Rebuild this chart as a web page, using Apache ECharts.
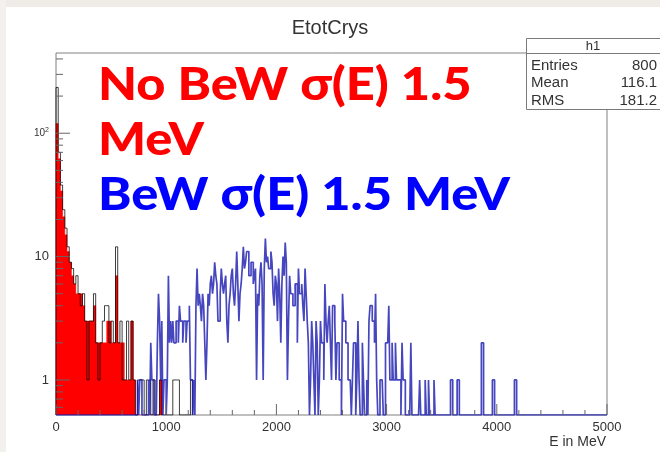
<!DOCTYPE html>
<html>
<head>
<meta charset="utf-8">
<script src="https://cdn.jsdelivr.net/npm/echarts@6/dist/echarts.min.js"></script>
<style>
  html, body { margin: 0; padding: 0; background: #ffffff; }
  #chart { width: 660px; height: 452px; }
</style>
</head>
<body>
<div id="chart"></div>
<script>
// Axis ranges
const xMin = 0;
const xMax = 5000;
const yMin = 0.52;
const yMax = 447;

// No BeW, sigma(E) 1.5 MeV : filled histogram, 20 MeV bins from 0 MeV
const noBeWStart = 0;
const noBeWBin = 20;
const noBeWCounts = [
  120, 62, 34, 21, 15, 11, 9, 7, 6, 5,
  5, 5, 4, 3, 3, 3, 3, 4, 2, 2,
  2, 2, 2, 3, 3, 2, 2, 7, 2, 2,
  2, 1, 1, 1, 3, 1, 0, 0, 0, 0,
  0, 0, 0, 0, 0, 0, 0, 1
];

// Outline histogram over the filled one, 20 MeV bins from 0 MeV
const outlineStart = 0;
const outlineBin = 20;
const outlineCounts = [
  235, 70, 38, 24, 17, 12, 9, 8, 6, 7,
  5, 4, 5, 3, 1, 3, 3, 5, 2, 1,
  2, 3, 4, 4, 2, 3, 2, 12, 2, 3,
  1, 1, 3, 1, 3, 1, 0, 1, 1, 1,
  0, 1, 1, 0, 1, 0, 0, 1, 0, 0,
  0, 0, 0, 1, 1, 1, 0, 0, 0, 0,
  0, 1
];

// BeW, sigma(E) 1.5 MeV : 10 MeV bins from 740 MeV
const beWStart = 740;
const beWBin = 10;
const beWCounts = [
  1, 0, 1, 1, 0, 0, 0, 0, 0, 0, 1, 0, 2, 1, 1, 0, 0, 0, 2, 5,      //  740 -  930
  3, 1, 3, 0, 1, 1, 0, 1, 7, 2, 3, 2, 3, 2, 2, 3, 3, 2, 4, 3,      //  940 - 1130
  3, 2, 3, 3, 2, 3, 3, 4, 1, 1, 0, 1, 0, 4, 8, 4, 5, 4, 3, 5,      // 1140 - 1330
  4, 2, 1, 2, 5, 4, 6, 7, 5, 6, 9, 7, 6, 3, 3, 5, 8, 6, 5, 6,      // 1340 - 1530
  7, 3, 2, 4, 5, 7, 8, 5, 4, 6, 11, 6, 3, 5, 6, 8, 12, 8, 9, 11,   // 1540 - 1730
  11, 7, 7, 9, 9, 6, 7, 8, 1, 5, 4, 7, 9, 6, 1, 8, 14, 9, 10, 8,   // 1740 - 1930
  8, 11, 9, 5, 4, 7, 6, 3, 8, 5, 2, 6, 10, 7, 13, 9, 1, 3, 7, 5,   // 1940 - 2130
  5, 4, 4, 6, 6, 2, 8, 5, 5, 6, 4, 3, 8, 5, 3, 2, 0, 1, 3, 2,      // 2140 - 2330
  1, 0, 3, 2, 0, 1, 3, 2, 2, 1, 6, 3, 2, 3, 4, 2, 1, 4, 4, 3,      // 2340 - 2530
  1, 2, 2, 1, 1, 0, 5, 3, 3, 2, 2, 1, 1, 1, 0, 1, 2, 2, 0, 1,      // 2540 - 2730
  3, 1, 0, 0, 2, 1, 0, 0, 1, 0, 3, 4, 4, 3, 3, 2, 5, 1, 0, 0,      // 2740 - 2930
  1, 1, 1, 0, 0, 2, 2, 2, 4, 1, 1, 2, 1, 1, 2, 1, 1, 1, 1, 0,      // 2940 - 3130
  2, 1, 1, 0, 0, 0, 0, 0, 2, 0, 0, 0, 0, 0, 0, 0, 1, 0, 0, 0,      // 3140 - 3330
  0, 1, 0, 0, 1, 0, 0, 0, 0, 1, 0, 0, 0, 0, 0, 0, 0, 0, 0, 0,      // 3340 - 3530
  0, 0, 0, 0, 1, 1, 0, 0, 0, 0, 1, 1, 0, 0, 0, 0, 0, 0, 0, 0,      // 3540 - 3730
  0, 0, 0, 0, 0, 0, 0, 0, 0, 0, 0, 0, 2, 2, 0, 0, 0, 0, 0, 0,      // 3740 - 3930
  0, 0, 1, 1, 0, 0, 0, 0, 0, 0, 0, 0, 0, 0, 0, 0, 0, 0, 0, 0,      // 3940 - 4130
  0, 0, 1, 1                                                       // 4140 - 4170
];

// Axis ticks
const xMajorTicks = [0, 1000, 2000, 3000, 4000, 5000];
const yMajorTicks = [1, 10, 100];
const yMinorTicks = [0.6, 0.7, 0.8, 0.9, 2, 3, 4, 5, 6, 7, 8, 9,
                     20, 30, 40, 50, 60, 70, 80, 90, 200, 300, 400];

// Statistics box
const statTitle = 'h1';
const statLabels = ['Entries', 'Mean', 'RMS'];
const statValues = ['800', '116.1', '181.2'];

// Build step-line points: [lowEdge, count]; empty bins sit on the axis floor
function histogramPoints(start, width, counts, fullRange) {
  const pts = [];
  if (fullRange && start > xMin) pts.push([xMin, yMin]);
  pts.push([start, yMin]);
  counts.forEach(function (c, i) {
    pts.push([start + i * width, c > 0 ? c : yMin]);
  });
  const end = start + counts.length * width;
  pts.push([end, yMin]);
  if (fullRange && end < xMax) pts.push([xMax, yMin]);
  return pts;
}

const xMinorTicks = [];
for (let v = xMin; v <= xMax; v += 200) {
  if (xMajorTicks.indexOf(v) < 0) xMinorTicks.push(v);
}

function tickSeries(values, len, axis) {
  return {
    type: 'custom',
    coordinateSystem: 'cartesian2d',
    silent: true,
    z: 6,
    data: values.map(function (v) { return [v, len]; }),
    renderItem: function (params, api) {
      const v = api.value(0);
      const l = api.value(1);
      let shape;
      if (axis === 'x') {
        const p = api.coord([v, yMin]);
        shape = { x1: p[0], y1: p[1], x2: p[0], y2: p[1] - l };
      } else {
        const p = api.coord([xMin, v]);
        shape = { x1: p[0], y1: p[1], x2: p[0] + l, y2: p[1] };
      }
      return { type: 'line', shape: shape, style: { stroke: '#666', lineWidth: 1 } };
    }
  };
}

const axisFont = '"Liberation Sans", Arial, sans-serif';
const bigFont = 'Lato, "Open Sans", sans-serif';

const statGraphics = [
  { type: 'rect', z: 100, shape: { x: 526.5, y: 38.5, width: 140, height: 71 },
    style: { fill: '#ffffff', stroke: '#7a7a7a', lineWidth: 1 } },
  { type: 'line', z: 101, shape: { x1: 526.5, y1: 53.5, x2: 660, y2: 53.5 },
    style: { stroke: '#7a7a7a', lineWidth: 1 } },
  { type: 'text', z: 101, x: 593, y: 46,
    style: { text: statTitle, fontFamily: axisFont, fontSize: 13, fill: '#333',
             align: 'center', verticalAlign: 'middle' } }
];
statLabels.forEach(function (lab, i) {
  const y = 65.7 + i * 17.7;
  statGraphics.push({ type: 'text', z: 101, x: 531, y: y, scaleX: 1.07,
    style: { text: lab, fontFamily: axisFont, fontSize: 14, fill: '#333', verticalAlign: 'middle' } });
  statGraphics.push({ type: 'text', z: 101, x: 657, y: y, scaleX: 1.07,
    style: { text: statValues[i], fontFamily: axisFont, fontSize: 14, fill: '#333',
             align: 'right', verticalAlign: 'middle' } });
});

// Large annotation lines
function banner(text, y, color) {
  return { type: 'text', z: 50, x: 98, y: y, scaleX: 1.1,
    style: { text: text, fontFamily: bigFont, fontWeight: 900, fontSize: 46,
             fill: color, verticalAlign: 'middle' } };
}

const chart = echarts.init(document.getElementById('chart'), null, { renderer: 'canvas' });

chart.setOption({
  animation: false,
  backgroundColor: '#ffffff',
  title: {
    text: 'EtotCrys',
    left: 'center',
    top: 13,
    textStyle: { fontFamily: axisFont, fontSize: 20, fontWeight: 'normal', color: '#333' }
  },
  grid: {
    left: 56, top: 53, width: 551, height: 362,
    show: true, borderColor: '#808080', borderWidth: 1, backgroundColor: 'transparent'
  },
  xAxis: {
    type: 'value',
    min: xMin, max: xMax, interval: 1000,
    axisLine: { show: false },
    axisTick: { show: false },
    splitLine: { show: false },
    axisLabel: { margin: 6, fontFamily: axisFont, fontSize: 13, color: '#333',
                 formatter: function (v) { return String(v); } },
    name: 'E in MeV',
    nameLocation: 'end',
    nameGap: -1,
    nameTextStyle: { fontFamily: axisFont, fontSize: 14, color: '#333',
                     align: 'right', verticalAlign: 'top', padding: [20, 0, 0, 0] }
  },
  yAxis: {
    type: 'log',
    logBase: 10,
    min: yMin, max: yMax,
    axisLine: { show: false },
    axisTick: { show: false },
    splitLine: { show: false },
    axisLabel: {
      margin: 7,
      fontFamily: axisFont, fontSize: 13, color: '#333',
      formatter: function (v) {
        const e = Math.round(Math.log10(v));
        if (Math.abs(Math.log10(v) - e) > 1e-6 || yMajorTicks.indexOf(Math.pow(10, e)) < 0) return '';
        if (e <= 1) return String(Math.pow(10, e));
        return '{base|10}{sup|' + e + '}';
      },
      rich: {
        base: { fontFamily: axisFont, fontSize: 10, color: '#333' },
        sup: { fontFamily: axisFont, fontSize: 7, color: '#333', verticalAlign: 'top', padding: [0, 0, 6, 0] }
      }
    }
  },
  series: [
    {
      name: 'No BeW',
      type: 'line',
      step: 'end',
      showSymbol: false,
      silent: true,
      z: 2,
      data: histogramPoints(noBeWStart, noBeWBin, noBeWCounts, false),
      lineStyle: { width: 0.5, color: '#ff0000' },
      areaStyle: { color: '#ff0000', opacity: 1, origin: 'start' }
    },
    {
      name: 'outline',
      type: 'line',
      step: 'end',
      showSymbol: false,
      silent: true,
      z: 3,
      data: histogramPoints(outlineStart, outlineBin, outlineCounts, false),
      lineStyle: { width: 1, color: 'rgba(0,0,0,0.75)' }
    },
    {
      name: 'BeW',
      type: 'line',
      step: 'end',
      showSymbol: false,
      silent: true,
      z: 4,
      data: histogramPoints(beWStart, beWBin, beWCounts, true),
      lineStyle: { width: 1.7, color: 'rgba(24,24,175,0.8)' }
    },
    tickSeries(xMajorTicks, 11, 'x'),
    tickSeries(xMinorTicks, 5, 'x'),
    tickSeries(yMajorTicks, 14, 'y'),
    tickSeries(yMinorTicks, 7, 'y')
  ],
  graphic: [
    { type: 'rect', z: 200, shape: { x: 0, y: 0, width: 660, height: 7 }, style: { fill: '#efece8' } },
    { type: 'rect', z: 200, shape: { x: 0, y: 0, width: 6, height: 452 }, style: { fill: '#f3f1ee' } },
    banner('No BeW σ(E) 1.5', 85, '#ff0000'),
    banner('MeV', 140, '#ff0000'),
    banner('BeW σ(E) 1.5 MeV', 195, '#0000ff')
  ].concat(statGraphics)
});
</script>
</body>
</html>
